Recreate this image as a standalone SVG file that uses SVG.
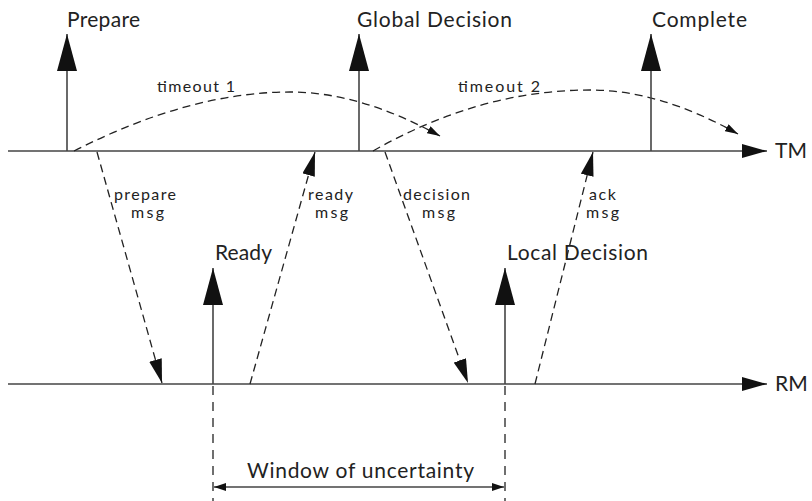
<svg xmlns="http://www.w3.org/2000/svg" width="812" height="501" viewBox="0 0 812 501">
<style>
text{font-family:"Lato","Liberation Sans",sans-serif;fill:#222}
.big{font-size:21px}
.sm{font-size:16px}
.ln{stroke:#444;stroke-width:1.6;fill:none}
.dash{stroke:#222;stroke-width:1.3;fill:none;stroke-dasharray:8 5}
.vd{stroke:#333;stroke-width:1.4;fill:none;stroke-dasharray:9 7}
</style>
<defs>
<marker id="ev" markerUnits="userSpaceOnUse" markerWidth="38" markerHeight="20" refX="37" refY="10" orient="auto"><path d="M0,0 L37,10 L0,20 z" fill="#111"/></marker>
<marker id="ax" markerUnits="userSpaceOnUse" markerWidth="26" markerHeight="14" refX="25" refY="7" orient="auto"><path d="M0,0 L25,7 L0,14 z" fill="#111"/></marker>
<marker id="msg" markerUnits="userSpaceOnUse" markerWidth="25" markerHeight="13" refX="24" refY="6.5" orient="auto"><path d="M0,0 L24,6.5 L0,13 z" fill="#111"/></marker>
<marker id="to" markerUnits="userSpaceOnUse" markerWidth="14" markerHeight="8" refX="13" refY="4" orient="auto"><path d="M0,0 L13,4 L0,8 z" fill="#111"/></marker>
<marker id="win" markerUnits="userSpaceOnUse" markerWidth="13" markerHeight="8" refX="12" refY="4" orient="auto-start-reverse"><path d="M0,0 L12,4 L0,8 z" fill="#111"/></marker>
</defs>
<g id="connectors">
<line id="tm-axis" class="ln" x1="8" y1="151" x2="767" y2="151" marker-end="url(#ax)"/>
<line id="rm-axis" class="ln" x1="8" y1="384" x2="767" y2="384" marker-end="url(#ax)"/>
<path id="timeout1" class="dash" d="M74,151 Q190,92 290,92 Q360,92 440,136" marker-end="url(#to)"/>
<path id="timeout2" class="dash" d="M373,151 Q480,90 590,90 Q660,90 738,134" marker-end="url(#to)"/>
<line id="prepare-msg" class="dash" x1="97" y1="152" x2="162" y2="383" marker-end="url(#msg)"/>
<line id="ready-msg" class="dash" x1="250" y1="384" x2="315" y2="152" marker-end="url(#msg)"/>
<line id="decision-msg" class="dash" x1="385" y1="152" x2="468" y2="383" marker-end="url(#msg)"/>
<line id="ack-msg" class="dash" x1="535" y1="384" x2="593" y2="152" marker-end="url(#msg)"/>
<line class="vd" x1="213" y1="386" x2="213" y2="501"/>
<line class="vd" x1="505" y1="386" x2="505" y2="501"/>
<line id="window" class="ln" x1="214" y1="487" x2="504" y2="487" stroke-width="1.3" marker-start="url(#win)" marker-end="url(#win)"/>
</g>
<g id="prepare"><line class="ln" x1="67" y1="151" x2="67" y2="34" marker-end="url(#ev)"/><text class="big" x="67" y="27" textLength="73" lengthAdjust="spacing">Prepare</text></g>
<g id="global-decision"><line class="ln" x1="359" y1="151" x2="359" y2="34" marker-end="url(#ev)"/><text class="big" x="357" y="27" textLength="155" lengthAdjust="spacing">Global Decision</text></g>
<g id="complete"><line class="ln" x1="651" y1="151" x2="651" y2="34" marker-end="url(#ev)"/><text class="big" x="652" y="27" textLength="95" lengthAdjust="spacing">Complete</text></g>
<g id="ready"><line class="ln" x1="213" y1="384" x2="213" y2="268" marker-end="url(#ev)"/><text class="big" x="215" y="260" textLength="57" lengthAdjust="spacing">Ready</text></g>
<g id="local-decision"><line class="ln" x1="505" y1="384" x2="505" y2="268" marker-end="url(#ev)"/><text class="big" x="507" y="260" textLength="141" lengthAdjust="spacing">Local Decision</text></g>
<g id="labels">
<text class="big" x="775" y="158">TM</text>
<text class="big" x="775" y="391">RM</text>
<text class="sm" x="157" y="92" textLength="78" lengthAdjust="spacing">timeout 1</text>
<text class="sm" x="458" y="92" textLength="82" lengthAdjust="spacing">timeout 2</text>
<text class="sm" x="114" y="200" textLength="62" lengthAdjust="spacing">prepare</text>
<text class="sm" x="131" y="218" textLength="33" lengthAdjust="spacing">msg</text>
<text class="sm" x="308" y="200" textLength="45" lengthAdjust="spacing">ready</text>
<text class="sm" x="315" y="218" textLength="33" lengthAdjust="spacing">msg</text>
<text class="sm" x="403" y="200" textLength="67" lengthAdjust="spacing">decision</text>
<text class="sm" x="422" y="218" textLength="33" lengthAdjust="spacing">msg</text>
<text class="sm" x="589" y="200" textLength="27" lengthAdjust="spacing">ack</text>
<text class="sm" x="586" y="218" textLength="33" lengthAdjust="spacing">msg</text>
<text class="big" x="247" y="478" textLength="227" lengthAdjust="spacing">Window of uncertainty</text>
</g>
</svg>
